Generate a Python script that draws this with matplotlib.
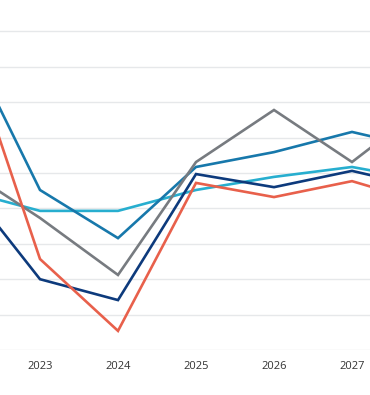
import numpy as np
import matplotlib.pyplot as plt

years = [2022, 2023, 2024, 2025, 2026, 2027, 2028]
tick_years = [2023, 2024, 2025, 2026, 2027]

# values (gridline units)
cyan = [4.52, 3.93, 3.93, 4.52, 4.89, 5.17, 4.77]
blue = [9.0, 4.52, 3.16, 5.17, 5.59, 6.16, 5.65]
gray = [5.17, 3.73, 2.12, 5.31, 6.78, 5.31, 7.0]
navy = [4.8, 2.0, 1.41, 4.97, 4.6, 5.06, 4.55]
red = [9.12, 2.57, 0.54, 4.72, 4.32, 4.77, 4.12]

series = [(cyan, '#27AECF'), (blue, '#1778AB'), (gray, '#777B80'),
          (navy, '#0D3A7C'), (red, '#E8604B')]

fig = plt.figure(figsize=(3.7, 3.95), dpi=100)
ax = fig.add_axes([0, 45/395, 1, 350/395])

for vals, col in series:
    ax.plot(years, vals, color=col, linewidth=1.9, solid_joinstyle='miter', zorder=3)

for g in range(0, 10):
    ax.axhline(g, color='#e6e8ea', linewidth=1.0, zorder=1)

ax.set_xlim(2023 - 40/78, 2027 + 18/78)
ax.set_ylim(0, 350/35.4)
ax.set_xticks(tick_years)
ax.set_xticklabels([str(y) for y in tick_years], fontsize=8, family='Open Sans', color='#333333')
ax.tick_params(axis='x', length=0, pad=8)
ax.set_yticks([])
for s in ax.spines.values():
    s.set_visible(False)

fig.savefig('out.png', dpi=100)
